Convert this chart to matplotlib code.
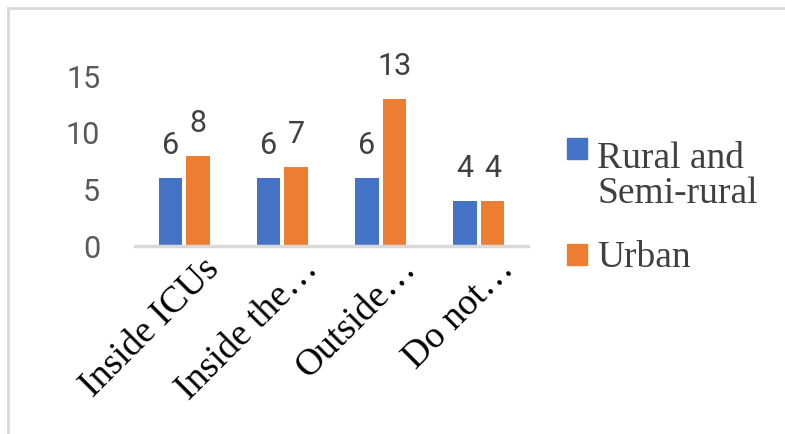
import matplotlib
matplotlib.use("Agg")
import matplotlib.pyplot as plt
from matplotlib.patches import Rectangle
from matplotlib.lines import Line2D
from matplotlib.transforms import ScaledTranslation
import numpy as np

# data
categories = ["Inside ICUs", "Inside the\u2026", "Outside\u2026", "Do not\u2026"]
series_names = ["Rural and\nSemi-rural", "Urban"]
rural = [6, 6, 6, 4]
urban = [8, 7, 13, 4]
colors = ["#4472C4", "#ED7D31"]
yticks = [0, 5, 10, 15]

sans = ["Liberation Sans Narrow", "Roboto", "DejaVu Sans"]
serif = ["Liberation Serif", "DejaVu Serif"]

W, H = 785, 434
fig = plt.figure(figsize=(W / 100, H / 100), dpi=100)
ax = fig.add_axes([135 / W, (H - 246) / H, 393 / W, 169.5 / H])

x = np.arange(len(categories))
bw = 0.24
off = 0.14
b1 = ax.bar(x - off, rural, bw, color=colors[0], zorder=2)
b2 = ax.bar(x + off, urban, bw, color=colors[1], zorder=2)

for bars in (b1, b2):
    ax.bar_label(bars, padding=13, fontsize=22, color="#404040", family=sans)

ax.set_xlim(-0.5, len(categories) - 0.5)
ax.set_ylim(0, 15)
ax.set_yticks(yticks)
ax.set_yticklabels([str(t) for t in yticks], fontsize=22, color="#595959", family=sans)
ax.tick_params(axis="y", length=0, pad=25)
ax.tick_params(axis="x", length=0, pad=4)
ax.set_xticks(x)
ax.set_xticklabels(categories, rotation=45, ha="right", rotation_mode="anchor",
                   fontsize=27, family=serif, color="black")
for lab in ax.get_xticklabels():
    lab.set_transform(lab.get_transform() + ScaledTranslation(0.18, 0, fig.dpi_scale_trans))

for s in ("top", "right", "left"):
    ax.spines[s].set_visible(False)
ax.spines["bottom"].set_color("#d9d9d9")
ax.spines["bottom"].set_linewidth(2.5)

# legend drawn by hand so the marker sits on the first line
box_y = [(H - 159) / H, (H - 265) / H]
text_y = [(H - 203) / H, (H - 267) / H]
for i, name in enumerate(series_names):
    fig.add_artist(Rectangle((567 / W, box_y[i]), 20 / W, 21 / H,
                             transform=fig.transFigure, color=colors[i]))
    fig.text(597 / W, text_y[i], name, fontsize=27, family=serif, color="#404040",
             va="baseline", ha="left", linespacing=1.02)

# outer frame of the chart box
fig.add_artist(Line2D([8 / W, 8 / W], [0, (H - 8) / H], color="#d9d9d9", lw=2,
                      transform=fig.transFigure))
fig.add_artist(Line2D([8 / W, 1], [(H - 8) / H, (H - 8) / H], color="#d9d9d9", lw=2,
                      transform=fig.transFigure))

# caption text cut off at the top of the crop
fig.text(637 / W, (H + 5) / H, "(Figure 4)", fontsize=19, family=serif, color="black",
         va="baseline", ha="left")

fig.savefig("out.png", dpi=100)
